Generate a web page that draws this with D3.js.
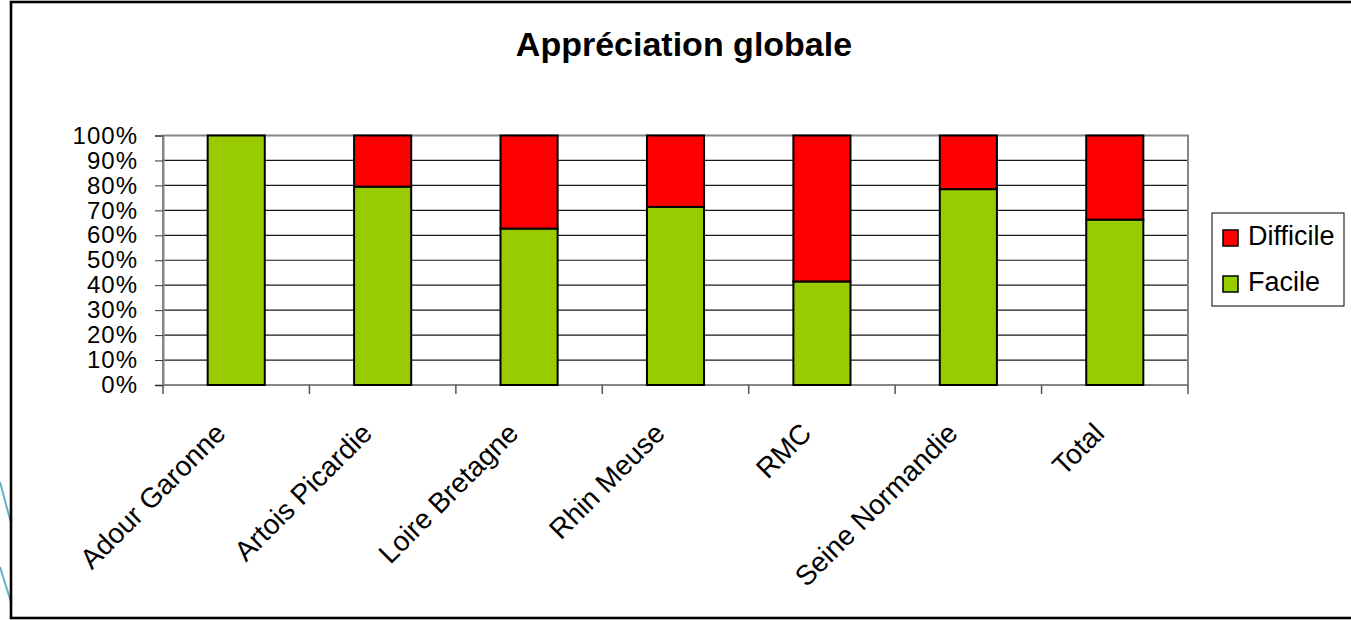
<!DOCTYPE html>
<html>
<head>
<meta charset="utf-8">
<script src="https://cdn.jsdelivr.net/npm/d3@7"></script>
<style>
  body { margin: 0; background: #fff; }
  svg { display: block; font-family: "Liberation Sans", Arial, sans-serif; }
</style>
</head>
<body>
<div id="chart"></div>
<script>
// chart values
var categories = ["Adour Garonne", "Artois Picardie", "Loire Bretagne", "Rhin Meuse", "RMC", "Seine Normandie", "Total"];
var facile    = [100, 79.5, 62.7, 71.4, 41.5, 78.5, 66.3];
var difficile = [0, 20.5, 37.3, 28.6, 58.5, 21.5, 33.7];
var seriesNames = ["Facile", "Difficile"];
var yTicks = [0, 10, 20, 30, 40, 50, 60, 70, 80, 90, 100];

var width = 1351, height = 620;
var plot = { left: 163, right: 1188, top: 135.5, bottom: 385 };
var colors = { Facile: "#99cc00", Difficile: "#ff0000" };

var svg = d3.select("#chart").append("svg")
    .attr("width", width)
    .attr("height", height);

// slide decoration on the left edge
svg.append("path")
    .attr("d", "M0,482L11,523M0,567L11,602")
    .style("stroke", "#5bb3cc")
    .style("stroke-width", 2)
    .style("fill", "none");

// chart frame (runs off the right side)
svg.append("rect")
    .attr("x", 11).attr("y", 2)
    .attr("width", 1400).attr("height", 616)
    .style("fill", "none")
    .style("stroke", "#000")
    .style("stroke-width", 2.6);

svg.append("text")
    .attr("x", 684).attr("y", 56)
    .attr("text-anchor", "middle")
    .style("font-size", "34px")
    .style("font-weight", "bold")
    .text("Appréciation globale");

var x = d3.scaleBand()
    .domain(categories)
    .range([plot.left, plot.right])
    .paddingInner(0.61)
    .paddingOuter(0.305);

var y = d3.scaleLinear()
    .domain([0, 100])
    .range([plot.bottom, plot.top]);

// gridlines
svg.append("g").selectAll("line")
    .data(yTicks.slice(1, -1))
    .enter().append("line")
    .attr("x1", plot.left).attr("x2", plot.right)
    .attr("y1", function(d) { return y(d); })
    .attr("y2", function(d) { return y(d); })
    .style("stroke", "#1a1a1a")
    .style("stroke-width", 1.2);

// plot area border
svg.append("rect")
    .attr("x", plot.left).attr("y", plot.top)
    .attr("width", plot.right - plot.left)
    .attr("height", plot.bottom - plot.top)
    .style("fill", "none")
    .style("stroke", "#858585")
    .style("stroke-width", 2);

// stacked bars
var rows = categories.map(function(c, i) {
  return { name: c, Facile: facile[i], Difficile: difficile[i] };
});
var stacked = d3.stack().keys(seriesNames)(rows);

svg.append("g").selectAll("g")
    .data(stacked)
    .enter().append("g")
    .style("fill", function(d) { return colors[d.key]; })
    .selectAll("rect")
    .data(function(d) { return d.filter(function(p) { return p[1] > p[0]; }); })
    .enter().append("rect")
    .attr("x", function(d) { return x(d.data.name); })
    .attr("width", x.bandwidth())
    .attr("y", function(d) { return y(d[1]); })
    .attr("height", function(d) { return y(d[0]) - y(d[1]); })
    .style("stroke", "#000")
    .style("stroke-width", 2);

// y axis
var yAxis = svg.append("g")
    .attr("transform", "translate(" + plot.left + ",0)")
    .call(d3.axisLeft(y).tickValues(yTicks).tickSize(8).tickPadding(17)
      .tickFormat(function(d) { return d + "%"; }));
yAxis.select(".domain").style("stroke", "#858585").style("stroke-width", 2);
yAxis.selectAll(".tick line").style("stroke", "#333");
yAxis.selectAll("text")
    .style("font-size", "24px")
    .style("letter-spacing", "1px")
    .style("font-family", "'Liberation Sans', Arial, sans-serif")
    .style("fill", "#000");

// x axis ticks between categories
var step = x.step();
svg.append("g").selectAll("line")
    .data(d3.range(categories.length + 1))
    .enter().append("line")
    .attr("x1", function(k) { return plot.left + k * step; })
    .attr("x2", function(k) { return plot.left + k * step; })
    .attr("y1", plot.bottom).attr("y2", plot.bottom + 9)
    .style("stroke", "#555")
    .style("stroke-width", 1.5);

// rotated category labels
svg.append("g").selectAll("text")
    .data(categories)
    .enter().append("text")
    .attr("text-anchor", "end")
    .attr("transform", function(d) {
      var cx = x(d) + x.bandwidth() / 2;
      return "translate(" + (cx - 9) + ",435) rotate(-45)";
    })
    .style("font-size", "28px")
    .text(function(d) { return d; });

// legend
var legend = svg.append("g").attr("transform", "translate(1212,213)");
legend.append("rect")
    .attr("width", 132).attr("height", 93)
    .style("fill", "#fff")
    .style("stroke", "#000")
    .style("stroke-width", 1);

var legendItems = legend.selectAll("g.item")
    .data(seriesNames.slice().reverse())
    .enter().append("g")
    .attr("class", "item")
    .attr("transform", function(d, i) { return "translate(11," + (17 + i * 46) + ")"; });

legendItems.append("rect")
    .attr("width", 15).attr("height", 16)
    .style("fill", function(d) { return colors[d]; })
    .style("stroke", "#000")
    .style("stroke-width", 1.5);

legendItems.append("text")
    .attr("x", 25).attr("y", 15)
    .style("font-size", "27px")
    .text(function(d) { return d; });
</script>
</body>
</html>
